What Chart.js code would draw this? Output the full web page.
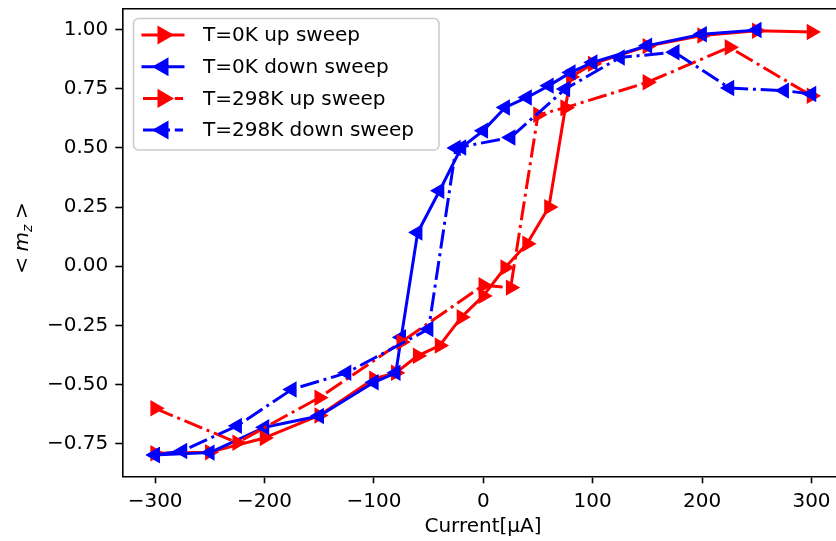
<!DOCTYPE html>
<html>
<head>
<meta charset="utf-8">
<script src="https://cdn.jsdelivr.net/npm/chart.js@4.4.1/dist/chart.umd.min.js"></script>
<style>
  html, body { margin: 0; padding: 0; background: #fff; }
  #wrap { width: 836px; height: 541px; }
</style>
</head>
<body>
<div id="wrap"><canvas id="sweepChart" width="836" height="541"></canvas></div>
<script>
// magnetisation <m_z> vs applied current, up and down sweeps at two temperatures
const up0kCurrent = [-300, -250, -200, -150, -100, -80, -60, -40, -20, 0, 20, 40, 60, 75, 80, 100, 150, 200, 250, 300];
const up0kMz = [-0.79, -0.785, -0.725, -0.63, -0.475, -0.45, -0.378, -0.335, -0.215, -0.125, -0.005, 0.095, 0.25, 0.67, 0.80, 0.855, 0.93, 0.975, 0.995, 0.99];

const down0kCurrent = [250, 200, 150, 100, 80, 60, 40, 20, 0, -20, -40, -60, -75, -80, -100, -150, -200, -250, -300];
const down0kMz = [0.998, 0.98, 0.932, 0.861, 0.819, 0.763, 0.713, 0.671, 0.573, 0.502, 0.319, 0.143, -0.30, -0.45, -0.49, -0.632, -0.68, -0.787, -0.797];

const up298kCurrent = [-300, -225, -150, -75, 0, 25, 50, 75, 150, 225, 300];
const up298kMz = [-0.60, -0.745, -0.555, -0.32, -0.08, -0.09, 0.64, 0.67, 0.777, 0.925, 0.72];

const down298kCurrent = [300, 275, 225, 175, 125, 75, 25, -25, -50, -125, -175, -225, -275, -300];
const down298kMz = [0.728, 0.742, 0.753, 0.904, 0.882, 0.749, 0.544, 0.50, -0.265, -0.45, -0.52, -0.674, -0.78, -0.797];

const seriesNames = ["T=0K up sweep", "T=0K down sweep", "T=298K up sweep", "T=298K down sweep"];
const xTickValues = [-300, -200, -100, 0, 100, 200, 300];
const yTickValues = [-0.75, -0.5, -0.25, 0, 0.25, 0.5, 0.75, 1.0];

const FONT = "DejaVu Sans";
const DASH_DOT = [19.2, 4.8, 3, 4.8];

function pairs(xs, ys) {
  return xs.map((x, i) => ({ x: x, y: ys[i] }));
}

function makeSeries(label, xs, ys, color, dashed, rotation, order) {
  return {
    label: label,
    data: pairs(xs, ys),
    borderColor: color,
    backgroundColor: color,
    borderWidth: 3,
    borderDash: dashed ? DASH_DOT : [],
    borderCapStyle: dashed ? "butt" : "square",
    borderJoinStyle: "round",
    tension: 0,
    fill: false,
    pointStyle: "triangle",
    pointRotation: rotation,
    pointRadius: 8,
    pointBorderWidth: 1.5,
    pointBorderColor: color,
    pointBackgroundColor: color,
    order: order,
  };
}

const datasets = [
  makeSeries(seriesNames[0], up0kCurrent, up0kMz, "#ff0000", false, 90, 4),
  makeSeries(seriesNames[1], down0kCurrent, down0kMz, "#0000ff", false, 270, 3),
  makeSeries(seriesNames[2], up298kCurrent, up298kMz, "#ff0000", true, 90, 2),
  makeSeries(seriesNames[3], down298kCurrent, down298kMz, "#0000ff", true, 270, 1),
];

// frame top edge, legend box and axis titles
const decorations = {
  id: "decorations",
  afterDraw(chart) {
    const ctx = chart.ctx;
    const area = chart.chartArea;
    ctx.save();

    // top spine
    ctx.strokeStyle = "#000";
    ctx.lineWidth = 1.6;
    ctx.beginPath();
    ctx.moveTo(area.left, area.top);
    ctx.lineTo(chart.width, area.top);
    ctx.stroke();

    // legend
    const bx = 133.5, by = 18.5, bw = 305.5, bh = 131.5, r = 5;
    ctx.beginPath();
    ctx.moveTo(bx + r, by);
    ctx.arcTo(bx + bw, by, bx + bw, by + bh, r);
    ctx.arcTo(bx + bw, by + bh, bx, by + bh, r);
    ctx.arcTo(bx, by + bh, bx, by, r);
    ctx.arcTo(bx, by, bx + bw, by, r);
    ctx.closePath();
    ctx.fillStyle = "rgba(255,255,255,0.8)";
    ctx.fill();
    ctx.strokeStyle = "#cccccc";
    ctx.lineWidth = 1.6;
    ctx.stroke();

    const rowY = [35, 66.7, 98.4, 130];
    datasets.forEach((ds, i) => {
      const y = rowY[i];
      ctx.strokeStyle = ds.borderColor;
      ctx.lineWidth = ds.borderWidth;
      ctx.lineCap = ds.borderDash.length ? "butt" : "square";
      ctx.setLineDash(ds.borderDash);
      ctx.beginPath();
      ctx.moveTo(143, y);
      ctx.lineTo(183, y);
      ctx.stroke();
      ctx.setLineDash([]);
      Chart.helpers.drawPoint(ctx, {
        pointStyle: "triangle",
        rotation: ds.pointRotation,
        radius: ds.pointRadius,
        borderWidth: ds.pointBorderWidth,
      }, 163, y);
      ctx.fillStyle = ds.borderColor;
      ctx.fill();
      ctx.strokeStyle = ds.borderColor;
      ctx.lineWidth = ds.pointBorderWidth;
      ctx.stroke();
      ctx.fillStyle = "#000";
      ctx.font = "20px '" + FONT + "'";
      ctx.textAlign = "left";
      ctx.textBaseline = "middle";
      ctx.fillText(ds.label, 203, y + 1);
    });

    // x title
    ctx.fillStyle = "#000";
    ctx.font = "20px '" + FONT + "'";
    ctx.textAlign = "center";
    ctx.textBaseline = "middle";
    ctx.fillText("Current[μA]", 483, 527);

    // y title: < m_z > with italic m and subscript z
    ctx.translate(21, 238);
    ctx.rotate(-Math.PI / 2);
    ctx.textAlign = "left";
    ctx.textBaseline = "alphabetic";
    const normal = "20px '" + FONT + "'";
    const italic = "italic 20px '" + FONT + "'";
    const small = "italic 14px '" + FONT + "'";
    const gap = 5.6;
    ctx.font = normal;
    const wLt = ctx.measureText("<").width;
    const wGt = ctx.measureText(">").width;
    ctx.font = italic;
    const wM = ctx.measureText("m").width;
    ctx.font = small;
    const wZ = ctx.measureText("z").width;
    const total = wLt + gap + wM + wZ + gap + wGt;
    let cx = -total / 2;
    const base = 7;
    ctx.font = normal;
    ctx.fillText("<", cx, base);
    cx += wLt + gap;
    ctx.font = italic;
    ctx.fillText("m", cx, base);
    cx += wM;
    ctx.font = small;
    ctx.fillText("z", cx, base + 4);
    cx += wZ + gap;
    ctx.font = normal;
    ctx.fillText(">", cx, base);

    ctx.restore();
  },
};

function minusSign(v) {
  return String(v).replace("-", "\u2212");
}

// keep the plot box fixed: no extra room for overhanging end labels
function noEdgePadding(s) {
  s.paddingLeft = 0;
  s.paddingRight = 0;
  s.paddingTop = 0;
  s.paddingBottom = 0;
}

new Chart(document.getElementById("sweepChart").getContext("2d"), {
  type: "line",
  data: { datasets: datasets },
  options: {
    responsive: false,
    animation: false,
    devicePixelRatio: 1,
    layout: { autoPadding: false, padding: { top: 8.7, left: 0, right: 0, bottom: 0 } },
    plugins: {
      legend: { display: false },
      tooltip: { enabled: false },
    },
    scales: {
      x: {
        type: "linear",
        min: -330,
        max: 322.4,
        afterBuildTicks: (s) => { s.ticks = xTickValues.map((v) => ({ value: v })); },
        afterFit: (s) => { s.height = 64.7; noEdgePadding(s); },
        ticks: {
          callback: (v) => minusSign(v),
          font: { family: FONT, size: 20 },
          color: "#000",
          padding: 6,
          maxRotation: 0,
          autoSkip: false,
        },
        grid: { drawOnChartArea: false, drawTicks: true, tickLength: 7, tickWidth: 1.6, tickColor: "#000" },
        border: { display: true, color: "#000", width: 1.6 },
      },
      y: {
        type: "linear",
        min: -0.887,
        max: 1.088,
        afterBuildTicks: (s) => { s.ticks = yTickValues.map((v) => ({ value: v })); },
        afterFit: (s) => { s.width = 122.3; noEdgePadding(s); },
        ticks: {
          callback: (v) => minusSign(v.toFixed(2)),
          font: { family: FONT, size: 20 },
          color: "#000",
          padding: 7,
          autoSkip: false,
        },
        grid: { drawOnChartArea: false, drawTicks: true, tickLength: 7, tickWidth: 1.6, tickColor: "#000" },
        border: { display: true, color: "#000", width: 1.6 },
      },
    },
  },
  plugins: [decorations],
});
</script>
</body>
</html>
